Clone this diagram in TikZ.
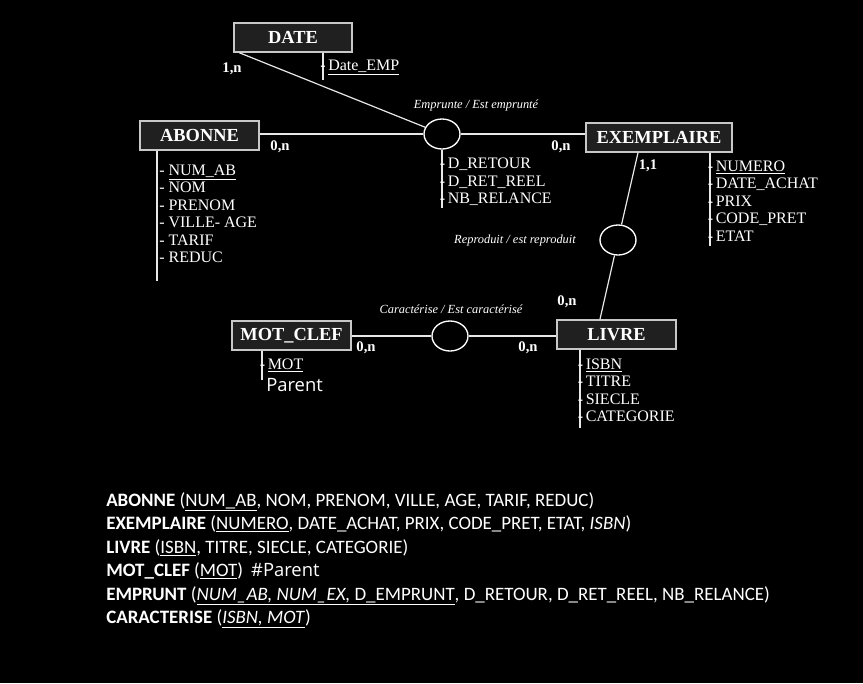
\documentclass[tikz,border=0pt]{standalone}
\usepackage{fontspec}
\setmainfont{Liberation Serif}
\newfontfamily\calib{Carlito}
\newfontfamily\osans{Open Sans}
\usetikzlibrary{shapes.geometric}
\definecolor{boxfill}{HTML}{202020}
\definecolor{boxline}{HTML}{C8C8C8}
\definecolor{lnc}{HTML}{E8E8E8}
\tikzset{
  ent/.style={draw=boxline, fill=boxfill, line width=1.1pt, text=white,
    font=\fontsize{13.8}{16}\selectfont\bfseries, inner sep=0pt, minimum height=21.75pt},
  ln/.style={draw=lnc, line width=0.9pt},
  rel/.style={ellipse, draw=white, line width=1pt, minimum width=27pt, minimum height=22.5pt, inner sep=0pt},
  att/.style={text=white, anchor=base west, font=\fontsize{12}{14}\selectfont, inner sep=0pt},
  card/.style={text=white, font=\fontsize{11}{13}\selectfont\bfseries, inner sep=0pt},
  lab/.style={text=white, font=\fontsize{9.3}{11}\selectfont\itshape, inner sep=0pt},
  rtxt/.style={text=white, anchor=base west, font=\calib\fontsize{14.2}{16}\selectfont, inner sep=0pt}
}
\begin{document}
\begin{tikzpicture}[x=0.75pt,y=-0.75pt]
\fill[black] (0,0) rectangle (863,683);
\useasboundingbox (0,0) rectangle (863,683);

% entities
\node[ent, minimum width=88.5pt] (date) at (293,37.5) {DATE};
\node[ent, minimum width=89.25pt] (abonne) at (199.5,135.5) {ABONNE};
\node[ent, minimum width=109.5pt] (exemplaire) at (659,137.5) {EXEMPLAIRE};
\node[ent, minimum width=89.25pt] (livre) at (616.5,334.5) {LIVRE};
\node[ent, minimum width=89.25pt] (motclef) at (291.5,335.5) {MOT\_CLEF};

% relationships
\node[rel] (emprunte) at (442,134) {};
\node[rel] (reproduit) at (618,240) {};
\node[rel] (caract) at (450,336) {};

% connectors
\draw[ln] ([xshift=4.5pt]date.south west) -- (emprunte);
\draw[ln] (abonne.east |- emprunte) -- (emprunte);
\draw[ln] (emprunte) -- (exemplaire.west |- emprunte);
\draw[ln] ([xshift=-15.75pt]exemplaire.south) -- (reproduit);
\draw[ln] (reproduit) -- ([xshift=-12.4pt]livre.north);
\draw[ln] (motclef.east |- caract) -- (caract);
\draw[ln] (caract) -- (livre.west |- caract);

% cardinalities
\node[card] (c1) at (232,69) {1,n};
\node[card] (c2) at (280,147) {0,n};
\node[card] (c3) at (561,147) {0,n};
\node[card] (c4) at (648,166) {1,1};
\node[card] (c5) at (567,302) {0,n};
\node[card] (c6) at (366,348) {0,n};
\node[card] (c7) at (528,348) {0,n};

% relationship labels
\node[lab] (l1) at (476,106) {Emprunte / Est emprunté};
\node[lab] (l2) at (515,241) {Reproduit / est reproduit};
\node[lab] (l3) at (451,309) {Caractérise / Est caractérisé};

% attribute lines
\coordinate (dA) at (323,80);
\draw[ln] (dA |- date.south) -- (dA);
\coordinate (aA) at (157,281);
\draw[ln] (aA |- abonne.south) -- (aA);
\coordinate (eA) at (442,208);
\draw[ln] (eA |- emprunte.south) -- (eA);
\coordinate (xA) at (710,246);
\draw[ln] (xA |- exemplaire.south) -- (xA);
\coordinate (lA) at (580,428);
\draw[ln] (lA |- livre.south) -- (lA);
\coordinate (mA) at (262,380);
\draw[ln] (mA |- motclef.south) -- (mA);

% attributes
\node[att] (d1) at (320,70) {-\,\underline{Date\_EMP}};

\node[att] (a1) at (159,175) {- \underline{NUM\_AB}};
\node[att] (a2) at (159,192.5) {- NOM};
\node[att] (a3) at (159,210) {- PRENOM};
\node[att] (a4) at (159,227.5) {- VILLE- AGE};
\node[att] (a5) at (159,245) {- TARIF};
\node[att] (a6) at (159,262.5) {- REDUC};

\node[att] (e1) at (439.5,168) {-\,D\_RETOUR};
\node[att] (e2) at (439.5,186) {-\,D\_RET\_REEL};
\node[att] (e3) at (439.5,203) {-\,NB\_RELANCE};

\node[att] (x1) at (707.5,171) {-\,\underline{NUMERO}};
\node[att] (x2) at (707.5,188.5) {-\,DATE\_ACHAT};
\node[att] (x3) at (707.5,206) {-\,PRIX};
\node[att] (x4) at (707.5,223.5) {-\,CODE\_PRET};
\node[att] (x5) at (707.5,241) {-\,ETAT};

\node[att] (v1) at (577.5,369) {-\,\underline{ISBN}};
\node[att] (v2) at (577.5,386.5) {-\,TITRE};
\node[att] (v3) at (577.5,404) {-\,SIECLE};
\node[att] (v4) at (577.5,421.5) {-\,CATEGORIE};

\node[att] (m1) at (259.5,369) {-\,\underline{MOT}};
\node[text=white, anchor=base west, font=\osans\fontsize{13.8}{16}\selectfont, inner sep=0pt] (m2) at (266,391) {Parent};

% relational schema
\node[rtxt] (r1) at (106,506) {\textbf{ABONNE} (\underline{NUM\_AB}, NOM, PRENOM, VILLE, AGE, TARIF, REDUC)};
\node[rtxt] (r2) at (106,529.5) {\textbf{EXEMPLAIRE} (\underline{NUMERO}, DATE\_ACHAT, PRIX, CODE\_PRET, ETAT, \textit{ISBN})};
\node[rtxt] (r3) at (106,553) {\textbf{LIVRE} (\underline{ISBN}, TITRE, SIECLE, CATEGORIE)};
\node[rtxt] (r4) at (106,576.5) {\textbf{MOT\_CLEF} (\underline{MOT})\hspace{6pt}{\osans\fontsize{13.8}{16}\selectfont \#Parent}};
\node[rtxt] (r5) at (106,600) {\textbf{EMPRUNT} (\underline{\textit{NUM\_AB, NUM\_EX,} D\_EMPRUNT}, D\_RETOUR, D\_RET\_REEL, NB\_RELANCE)};
\node[rtxt] (r6) at (106,623) {\textbf{CARACTERISE} (\underline{\textit{ISBN, MOT}})};
\end{tikzpicture}
\end{document}
